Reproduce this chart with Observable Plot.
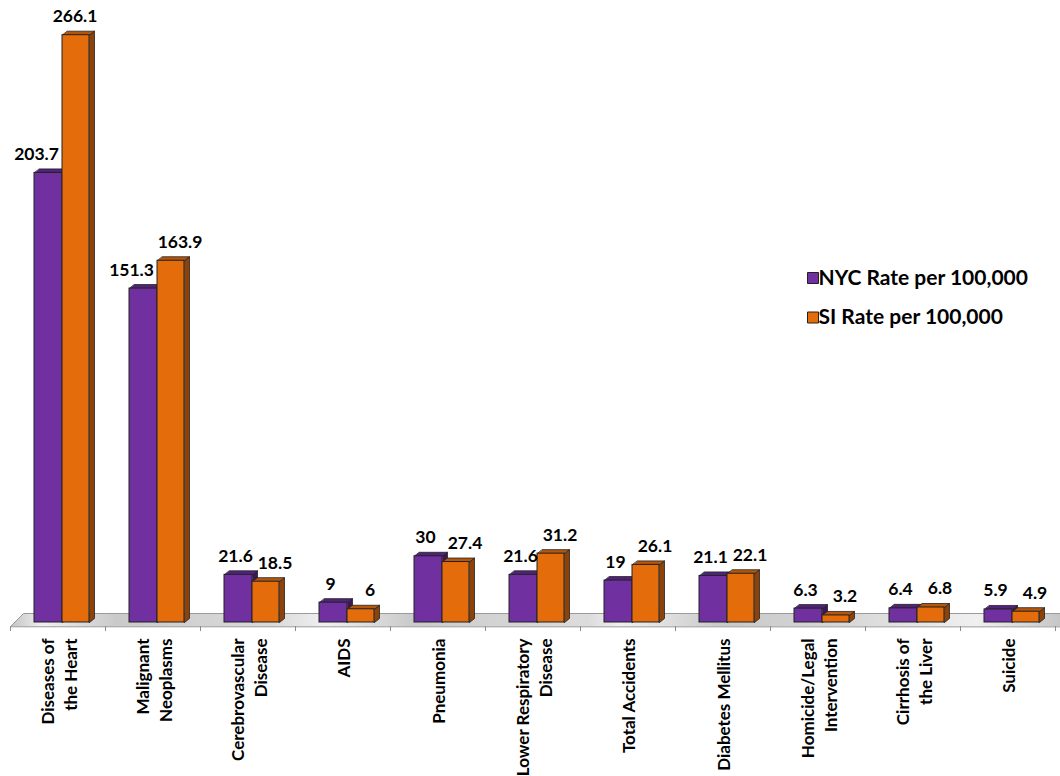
<!DOCTYPE html>
<html><head><meta charset="utf-8">
<script src="https://cdn.jsdelivr.net/npm/d3@7"></script>
<script src="https://cdn.jsdelivr.net/npm/@observablehq/plot@0.6"></script>
<style>
html,body{margin:0;padding:0;background:#fff;}
#chart svg{display:block;}
</style></head><body><div id="chart"></div>
<script>
const categories = ["Diseases of\nthe Heart","Malignant\nNeoplasms","Cerebrovascular\nDisease","AIDS","Pneumonia","Lower Respiratory\nDisease","Total Accidents","Diabetes Mellitus","Homicide/Legal\nIntervention","Cirrhosis of\nthe Liver","Suicide"];
const nycRate = [203.7,151.3,21.6,9,30,21.6,19,21.1,6.3,6.4,5.9];
const siRate  = [266.1,163.9,18.5,6,27.4,31.2,26.1,22.1,3.2,6.8,4.9];
const seriesNames = ["NYC Rate per 100,000","SI Rate per 100,000"];

const W = 1060, H = 776, mL = 10, mR = 5, mT = 4, mB = 154;
const yMax = 280;
const pxPerUnit = (H - mT - mB) / yMax;
const pxPerCat = (W - mL - mR) / categories.length;
const depthX = 5 / pxPerCat, depthY = 4 / pxPerUnit;
const slots = [[24, 52], [52, 79]];
const frontC = ["#7030A0", "#E46C0A"];
const topC = ["#51237A", "#B5570B"];
const sideC = ["#3B1758", "#8C4208"];
const edge = "#222222";
const font = "Lato, 'Open Sans', sans-serif";

const series = [nycRate, siRate];
const bars = [];
categories.forEach((c, i) => {
  series.forEach((arr, s) => {
    const v = arr[i], other = series[1 - s][i];
    bars.push({i, s, v, other,
      x1: i + slots[s][0] / pxPerCat,
      x2: i + slots[s][1] / pxPerCat});
  });
});

function topFace(b) {
  return [[b.x1, b.v], [b.x2, b.v], [b.x2 + depthX, b.v + depthY], [b.x1 + depthX, b.v + depthY]]
    .map(([x, y]) => ({x, y, id: `t${b.i}-${b.s}`}));
}
function sideFace(b) {
  return [[b.x2, b.v], [b.x2 + depthX, b.v + depthY], [b.x2 + depthX, depthY], [b.x2, 0]]
    .map(([x, y]) => ({x, y, id: `s${b.i}-${b.s}`}));
}

const faceMarks = [];
[0, 1].forEach(s => {
  const bs = bars.filter(b => b.s === s);
  faceMarks.push(Plot.line(bs.flatMap(sideFace), {x: "x", y: "y", z: "id", curve: "linear-closed", fill: sideC[s], stroke: edge, strokeWidth: 0.8, strokeLinejoin: "round"}));
  faceMarks.push(Plot.line(bs.flatMap(topFace), {x: "x", y: "y", z: "id", curve: "linear-closed", fill: topC[s], stroke: edge, strokeWidth: 0.8, strokeLinejoin: "round"}));
});

const floorFront = -4 / pxPerUnit, floorBack = 9 / pxPerUnit;
const nCat = categories.length;
const floorPts = [
  {x: 0, y: floorFront}, {x: 13 / pxPerCat, y: floorBack},
  {x: nCat + 5 / pxPerCat, y: floorBack}, {x: nCat + 5 / pxPerCat, y: floorFront}
];
const tickLow = floorFront - 5 / pxPerUnit;

// label horizontal nudges (px), mimicking the reference's label placement
const labelDx = b => b.s === 0 ? ((b.other - b.v > 10) ? -12 : -3) : ((b.v - b.other > 30) ? -1 : 9);
const labelGroups = d3.groups(bars, labelDx);
const labelMarks = labelGroups.map(([dx, bs]) =>
  Plot.text(bs, {x: b => (b.x1 + b.x2) / 2, y: "v", text: b => String(b.v), dy: -13, dx,
    lineAnchor: "bottom", textAnchor: "middle", fontSize: 17.5, fontWeight: "bold", fill: "#000"}));

const chart = Plot.plot({
  width: W, height: H,
  marginLeft: mL, marginRight: mR, marginTop: mT, marginBottom: mB,
  x: {domain: [0, nCat], axis: null},
  y: {domain: [0, yMax], axis: null},
  style: {fontFamily: font, background: "#fff", overflow: "visible"},
  marks: [
    Plot.line(floorPts, {x: "x", y: "y", curve: "linear-closed", fill: "url(#floorGrad)", stroke: "#9a9a9a", strokeWidth: 1}),
    Plot.ruleX(d3.range(nCat + 1), {y1: floorFront, y2: tickLow, stroke: "#8c8c8c", strokeWidth: 1}),
    ...faceMarks,
    Plot.rect(bars, {x1: "x1", x2: "x2", y1: 0, y2: "v", fill: b => frontC[b.s], stroke: edge, strokeWidth: 1}),
    ...labelMarks,
    Plot.text(categories, {x: (d, i) => i + 0.5, text: d => d, frameAnchor: "bottom", dy: 16, rotate: -90,
      textAnchor: "end", lineAnchor: "middle", lineHeight: 1.36, fontSize: 17, fontWeight: "bold", fill: "#000"}),
    ...seriesNames.flatMap((name, s) => [
      Plot.dot([name], {frameAnchor: "top-left", dx: 812.5 - mL, dy: 277.5 + s * 39.5 - mT, symbol: "square",
        r: Math.sqrt(121 / Math.PI), fill: frontC[s], stroke: edge, strokeWidth: 1}),
      Plot.text([name], {frameAnchor: "top-left", dx: 818 - mL, dy: 277.5 + s * 39.5 - mT, text: d => d,
        textAnchor: "start", lineAnchor: "middle", fontSize: 21, fontWeight: "bold", fill: "#000"})
    ])
  ]
});

d3.select(chart).insert("defs", ":first-child").html(`
  <linearGradient id="floorGrad" x1="0" y1="0" x2="1" y2="0">
    <stop offset="0" stop-color="#c4c4c4"/>
    <stop offset="0.03" stop-color="#f0f0f0"/>
    <stop offset="0.10" stop-color="#cacaca"/>
    <stop offset="0.25" stop-color="#dadada"/>
    <stop offset="0.30" stop-color="#f0f0f0"/>
    <stop offset="0.38" stop-color="#cbcbcb"/>
    <stop offset="0.55" stop-color="#dcdcdc"/>
    <stop offset="0.58" stop-color="#f0f0f0"/>
    <stop offset="0.68" stop-color="#c9c9c9"/>
    <stop offset="0.80" stop-color="#d8d8d8"/>
    <stop offset="0.92" stop-color="#f0f0f0"/>
    <stop offset="1" stop-color="#c6c6c6"/>
  </linearGradient>`);

document.getElementById("chart").appendChild(chart);
</script></body></html>
